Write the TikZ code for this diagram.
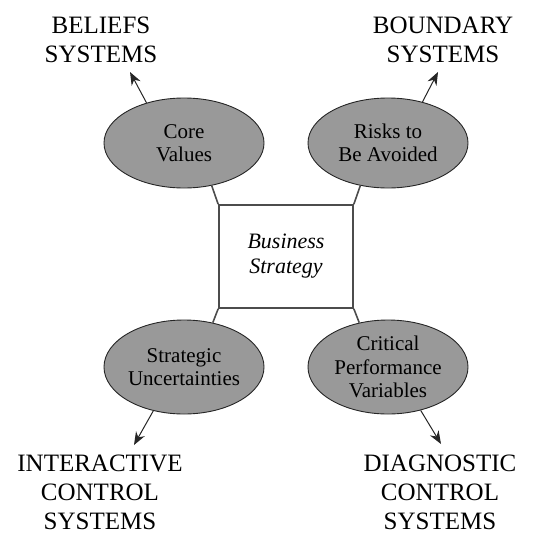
\documentclass[tikz,border=0pt]{standalone}
\usepackage{fontspec}
\setmainfont{Liberation Serif}
\usetikzlibrary{arrows.meta,shapes.geometric}
\begin{document}
\begin{tikzpicture}[x=1pt,y=-1pt,
  oval/.style={ellipse, draw=black!85, line width=0.9pt, fill=black!40,
    minimum width=160pt, minimum height=90pt, inner sep=0pt, align=center,
    font=\fontsize{21}{23.5}\selectfont},
  syslabel/.style={align=center, inner sep=0pt, font=\fontsize{25}{29}\selectfont},
  stratbox/.style={draw=black!70, line width=1.7pt, fill=white,
    minimum width=134pt, minimum height=103pt, inner sep=0pt, align=center,
    font=\itshape\fontsize{22}{25}\selectfont},
  link/.style={draw=black!70, line width=1.6pt},
  arrowline/.style={draw=black!85, line width=1pt, -{Stealth[length=13pt,width=10pt]}}]
\useasboundingbox (0,0) rectangle (545,535);
\node[oval] (core) at (184,143) {Core\\Values};
\node[oval] (risk) at (388,143) {Risks to\\Be Avoided};
\node[oval, minimum height=94pt] (strat) at (184,367) {Strategic\\Uncertainties};
\node[oval, minimum height=94pt] (crit) at (388,367) {Critical\\Performance\\Variables};
\node[stratbox] (box) at (286,256.5) {Business\\Strategy};
\draw[link] (box.north west) -- (core.-57);
\draw[link] (box.north east) -- (risk.-123);
\draw[link] (box.south west) -- (strat.57);
\draw[link] (box.south east) -- (crit.123);
\node[syslabel] (bel) at (101,39.5) {BELIEFS\\SYSTEMS};
\node[syslabel] (bnd) at (443,39.5) {BOUNDARY\\SYSTEMS};
\node[syslabel] (ict) at (100,492) {INTERACTIVE\\CONTROL\\SYSTEMS};
\node[syslabel] (dct) at (440,492) {DIAGNOSTIC\\CONTROL\\SYSTEMS};
\coordinate (belT) at (130,72);
\coordinate (bndT) at (438,72);
\coordinate (ictT) at (134,445);
\coordinate (dctT) at (441,444);
\draw[arrowline] (core.133) -- (belT);
\draw[arrowline] (risk.50) -- (bndT);
\draw[arrowline] (strat.-125) -- (ictT);
\draw[arrowline] (crit.-53) -- (dctT);
\end{tikzpicture}
\end{document}
